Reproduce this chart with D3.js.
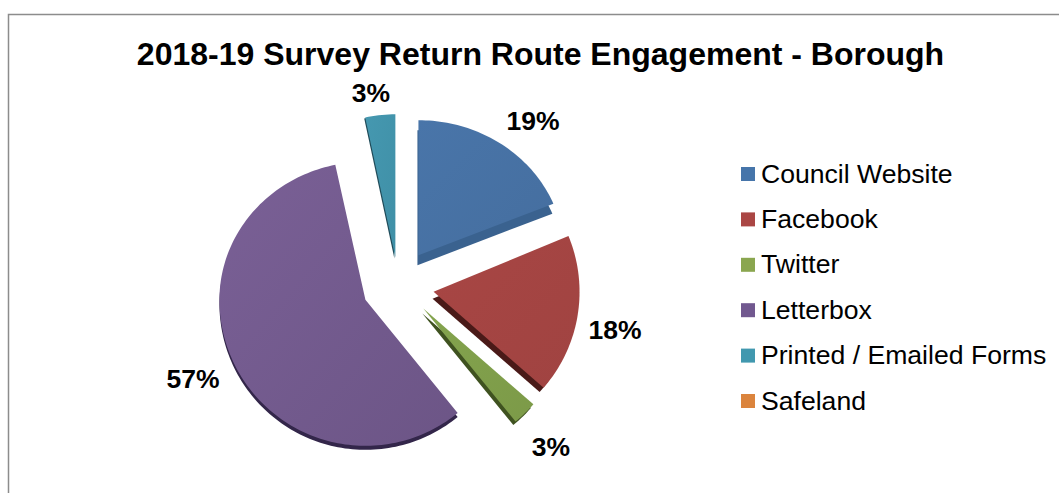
<!DOCTYPE html>
<html><head><meta charset="utf-8">
<script src="https://cdnjs.cloudflare.com/ajax/libs/d3/7.8.5/d3.min.js"></script>
<style>html,body{margin:0;padding:0;background:#fff;overflow:hidden}svg{display:block}text{font-family:"Liberation Sans",Arial,sans-serif;fill:#000}</style>
</head><body><svg id="c" width="1059" height="493"></svg>
<script>
const titleText = "2018-19 Survey Return Route Engagement - Borough";
const categories = ["Council Website","Facebook","Twitter","Letterbox","Printed / Emailed Forms","Safeland"];
const shares = [18.7,17.6,2.7,57.4,3.3,0];
const labelsShown = [true,true,true,true,true,false];

// styling, kept apart from the data
const colors = ["#4675AA","#AA4644","#8AA64F","#71588F","#4198AF","#DB843D"];
const faceA = ["#4975a9","#a84644","#84a44e","#7a6096","#4598b0","#DB843D"];
const faceB = ["#456e9f","#a04341","#7c9a48","#6c5586","#3f8fa6","#DB843D"];
const sideC = ["#3a628f","#4a1a18","#3f5220","#33264a","#1f4a58","#8a5020"];
const depth = [[-1,10],[-1,7],[-1,5],[0,4],[-1,1],[0,0]];
const sideInset = [0,4,2,0,0,0];
const squashUp = [.925,1,1,.945,.98,1];
const squashDown = [1,1,1,1,1,1];
const nudge = [[0,-7],[0,0],[0,0],[-2,0],[0,0],[0,0]];
const center = [399,287], explode = 35, explodeY = .85, R = 146;
const labelAt = [[533,121],[615,330],[551,447],[193,379],[371,93],[0,0]];

const svg = d3.select("#c");
svg.append("path").attr("d","M8.5,493V14.5H1059").attr("fill","none").attr("stroke","#8c8c8c").attr("stroke-width",1.5);
svg.append("text").attr("x",540.5).attr("y",64.5).attr("text-anchor","middle").attr("font-weight","bold").attr("font-size",32).text(titleText);

const defs = svg.append("defs");
categories.forEach((c,i)=>{
  const g = defs.append("linearGradient").attr("id","g"+i).attr("x1","0").attr("y1","0").attr("x2","1").attr("y2","1");
  g.append("stop").attr("offset","0").attr("stop-color",faceA[i]);
  g.append("stop").attr("offset","1").attr("stop-color",faceB[i]);
});

const arcs = d3.pie().sort(null).value(d=>d)(shares);
const wedge = (a,r,i) => {
  const n = Math.ceil((a.endAngle-a.startAngle)*40);
  const pts = [[0,0]].concat(d3.range(n+1).map(k=>{
    const p = d3.pointRadial(a.startAngle+(a.endAngle-a.startAngle)*k/n, r);
    return [p[0], p[1]*(p[1]<0?squashUp[i]:squashDown[i])];
  }));
  return d3.line()(pts)+"Z";
};
arcs.forEach((a,i)=>{
  if(a.endAngle-a.startAngle<=0) return;
  const mid=(a.startAngle+a.endAngle)/2;
  const tx=center[0]+explode*Math.sin(mid)+nudge[i][0], ty=center[1]-explode*explodeY*Math.cos(mid)+nudge[i][1];
  const s=svg.append("g").attr("transform",`translate(${tx},${ty})`);
  s.append("path").attr("d",wedge(a,R-sideInset[i],i)).attr("transform",`translate(${depth[i][0]},${depth[i][1]})`).attr("fill",sideC[i]);
  s.append("path").attr("d",wedge(a,R,i)).attr("fill",`url(#g${i})`);
});

categories.forEach((c,i)=>{
  if(labelsShown[i]) svg.append("text").attr("x",labelAt[i][0]).attr("y",labelAt[i][1]+9).attr("text-anchor","middle")
    .attr("font-weight","bold").attr("font-size",26.5).text(d3.format(".0f")(shares[i])+"%");
});

const ly = d3.scalePoint().domain(categories).range([174,401]);
categories.forEach((c,i)=>{
  svg.append("rect").attr("x",741).attr("y",ly(c)-7).attr("width",14).attr("height",14).attr("fill",colors[i]);
  svg.append("text").attr("x",761).attr("y",ly(c)+8.5).attr("font-size",26.6).text(c);
});
</script></body></html>
